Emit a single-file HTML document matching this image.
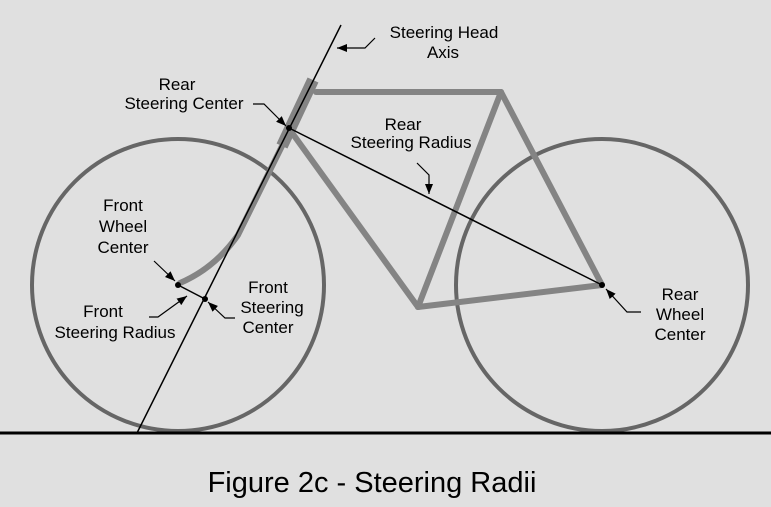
<!DOCTYPE html>
<html><head><meta charset="utf-8"><style>
html,body{margin:0;padding:0;background:#e0e0e0;}
svg{display:block;}
text{font-family:"Liberation Sans",sans-serif;font-size:17px;fill:#000;text-anchor:middle;}
</style></head><body>
<svg width="771" height="507" viewBox="0 0 771 507">
<defs>
<marker id="ah" viewBox="0 0 10 10" refX="10" refY="5" markerWidth="10" markerHeight="10" orient="auto" markerUnits="userSpaceOnUse">
<path d="M0,1 L10,5 L0,9 z" fill="#000"/></marker>
</defs>
<rect width="771" height="507" fill="#e0e0e0"/>
<g fill="none" stroke="#666" stroke-width="4">
<circle cx="178" cy="285" r="146"/>
<circle cx="602" cy="285" r="146"/>
</g>
<g fill="none" stroke="#848484" stroke-width="6" stroke-linecap="round">
<line x1="316" y1="92" x2="501" y2="92"/>
<line x1="501" y1="92" x2="418" y2="307"/>
<line x1="290" y1="130" x2="418" y2="307"/>
<line x1="418" y1="307" x2="602" y2="285"/>
<line x1="501" y1="92" x2="602" y2="285"/>
<path d="M284,142 L238,235 Q215,268 180,283"/>
</g>
<line x1="313" y1="80" x2="282" y2="146" stroke="#848484" stroke-width="12"/>
<line x1="341" y1="25" x2="137" y2="433" stroke="#000" stroke-width="1.5"/>
<line x1="289" y1="128" x2="602" y2="285" stroke="#000" stroke-width="1.5"/>
<line x1="178" y1="285" x2="205" y2="299" stroke="#000" stroke-width="1.5"/>
<line x1="0" y1="433" x2="771" y2="433" stroke="#000" stroke-width="3"/>
<g fill="#000">
<circle cx="178" cy="285" r="3"/>
<circle cx="205" cy="299" r="3"/>
<circle cx="289" cy="128" r="3"/>
<circle cx="602" cy="285" r="3"/>
<circle cx="418" cy="307" r="3" fill="#848484"/>
</g>
<g fill="none" stroke="#000" stroke-width="1.2" marker-end="url(#ah)">
<path d="M375,38 L365,48 L337,48"/>
<path d="M253,104 L264,104 L286,126"/>
<path d="M417,163 L429,175 L429,194"/>
<path d="M154,261 L175,281"/>
<path d="M149,317 L158,317 L187,296"/>
<path d="M235,318 L225,318 L208,302"/>
<path d="M641,312 L627,312 L606,289"/>
</g>
<text><tspan x="444" y="38">Steering Head</tspan><tspan x="443" y="58">Axis</tspan></text>
<text><tspan x="177" y="90">Rear</tspan><tspan x="184" y="109">Steering Center</tspan></text>
<text><tspan x="403" y="130">Rear</tspan><tspan x="411" y="148">Steering Radius</tspan></text>
<text><tspan x="123" y="211">Front</tspan><tspan x="123" y="232">Wheel</tspan><tspan x="123" y="253">Center</tspan></text>
<text><tspan x="103" y="317">Front</tspan><tspan x="115" y="338">Steering Radius</tspan></text>
<text><tspan x="268" y="293">Front</tspan><tspan x="272" y="313">Steering</tspan><tspan x="268" y="333">Center</tspan></text>
<text><tspan x="680" y="300">Rear</tspan><tspan x="680" y="320">Wheel</tspan><tspan x="680" y="340">Center</tspan></text>
<text x="372" y="492" style="font-size:29px">Figure 2c - Steering Radii</text>
</svg>
</body></html>
